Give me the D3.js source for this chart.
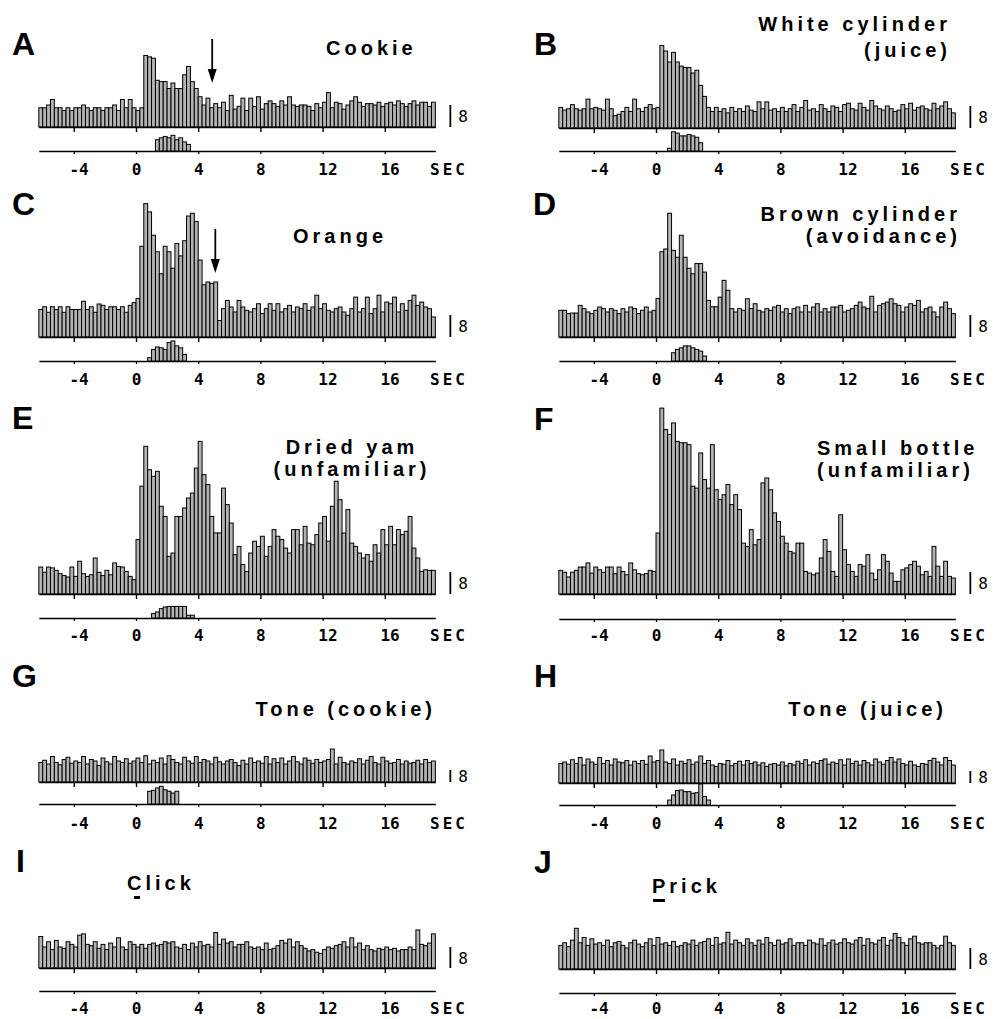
<!DOCTYPE html>
<html><head><meta charset="utf-8">
<script src="https://cdn.jsdelivr.net/npm/d3@7"></script>
<style>
body{margin:0;background:#fff;}
svg{display:block;}
</style></head><body>
<svg id="chart" width="994" height="1019"></svg>
<script>
// ---------------- DATA ----------------
const binStart = -6.25;      // sec, left edge of first bin
const binWidth = 0.25;       // sec
const tickValues = [-4, 0, 4, 8, 12, 16];
const tickLabels = ["-4", "0", "4", "8", "12", "16"];
const unitLabel = "SEC";
const unitLabelAt = 20;
const scaleBarValue = 8;

const panelLetters = ["A","B","C","D","E","F","G","H","I","J"];
const titleLines = [
  ["Cookie"], ["White cylinder", "(juice)"], ["Orange"], ["Brown cylinder", "(avoidance)"],
  ["Dried yam", "(unfamiliar)"], ["Small bottle", "(unfamiliar)"], ["Tone (cookie)"], ["Tone (juice)"],
  ["Click"], ["Prick"]
];

const countsA = [
  7,7,8,10,7,7,6,7,6,7,7,8,7,6,7,7,6,7,7,8,6,10,7,10,7,
  6,7,26,25.5,25,17,16.5,16.5,14,16,14,14,19,22,16.5,14,11,
  8,10.5,7,8.5,7,9,6,11.5,6.5,7.5,10.5,6,10.5,7.5,11,6.5,8.5,9.5,8.5,7.5,
  9.5,8,11,8,7.5,8,8,7.5,6,8.5,7,9,12.5,7,9,8.5,6.5,8,9.5,11,
  9,7.5,8.5,8.5,8,9,7.5,8.5,9,8,9.5,8.5,7.5,8.5,9.5,8,9,9,7.5,9
];
const countsB = [
  7.5,6.5,7,8.5,7,6.5,7,10.5,7,7.5,7,6.5,10.5,7,4.5,5,6,7.5,6,10.5,7,6,7.5,8.5,7,
  7.5,30,28,24,27.5,24,22.5,22,22,20,21,15.5,11.5,7.5,
  6,7.5,6,7,5.5,7.5,6,7,6,8,6.5,6,9.5,7,9.5,6.5,7,6,7.5,6,
  7,8.5,6,7.5,10,6.5,7,6,8.5,7,6,8,7.5,6,8.5,9,7,6.5,9,7.5,
  6.5,10,8,7,6.5,8,7,6,6.5,8.5,7,9,6.5,7.5,8,7,6.5,9,7,8,9.5,7,5.5
];
const countsC = [
  10,11,9,11,10,11,9,11,10,10,10,13,10,11,9,12,11.5,10,11,11,10,11,9,11.5,12.5,
  14,33,48.5,45.5,37,31,23,33,31,25,34,29.5,35,44,45,42,28,19,20,19.5,20,
  6,10.3,13.3,10.9,9.1,13.3,10.9,9.7,9.1,10.3,12.1,8.5,10.3,12.1,9.7,12.1,9.1,10.3,11.5,9.1,
  10.9,10.3,12.1,9.7,10.9,15.2,10.3,12.1,9.7,9.1,10.3,10.9,9.1,7.9,10.3,14.5,9.1,10.3,14.5,8.5,
  10.3,15.2,9.1,12.7,12.1,14.5,9.1,12.1,9.7,13.3,15.2,11.5,12.7,10.9,10.3,7.3
];
const countsD = [
  9.7,9.7,8.5,8.7,8.7,11.5,10.3,9.1,8.5,9.7,10.9,10.3,9.1,10.3,9.7,8.5,10.3,9.1,10.9,10.3,8.5,9.7,10.9,9.1,9.7,
  14,31,32,45,31.5,29,37,29,25,23,26.7,26.7,23.6,13.3,11,11,14.5,20.6,17,10.3,
  9.1,10.3,9.7,13.9,10.3,12.1,9.7,9.1,10.3,9.7,10.9,11.5,9.1,10.3,8.5,10.3,10.9,9.1,11.5,9.1,
  10.9,12.1,9.1,10.3,9.1,10.9,10.9,11.5,9.1,9.7,10.3,11.5,12.7,10.9,10.3,14.8,9.1,11.5,12.1,12.7,
  13.9,12.1,11.5,9.1,10.9,12.1,11.5,13.3,9.1,10.3,10.9,9.1,7.3,10.9,12.7,10.3,8.5
];
const countsE = [
  9.8,7.9,9.8,9.5,8.6,7.4,6.7,6.2,9.8,6.4,11.9,7.4,6.4,7,13.1,7.9,6.7,8.6,7,11.3,10,9.8,8.2,6.4,5.2,
  19.8,39.2,53.7,45.2,42.8,44.6,31.9,28.2,13.7,14.9,28.2,28.2,31.3,34.9,36.7,45.8,55.5,43.4,39.8,28.2,
  22.2,22.2,38.5,32.5,25.8,14.3,17.3,10.7,8.2,14.9,19.2,17.3,21,13.7,17.3,23.4,21,19.8,16.7,14.9,
  23.4,23.4,17.9,24.6,18.5,17.9,21.6,25.8,28.2,19.2,31.9,41,34.3,22.2,30.7,18.5,17.3,14.9,13.1,14.3,
  11.9,17.9,14.9,23.4,17.9,24.6,17.9,23.4,21.6,22.8,28.2,16.7,13.1,8.2,8.8,8.6,8.6
];
const countsF = [
  8.6,7.9,6.2,7.9,8.6,9.8,9.8,11.3,7.6,9.8,8.8,7.9,9.8,9.8,7.4,9.8,8.2,7,11.3,8.8,7.4,7,7.4,8.6,8.2,
  22.2,67.6,59.8,58,62.2,55.5,55,55,54.3,39.2,38.5,51.3,41.6,38.5,54.3,37.9,34.3,36.1,39.8,32.5,
  36.1,30.7,18.5,17.3,23.4,17.9,19.8,40.4,42.2,37.9,29.5,26.4,21,18.5,15.5,14.9,18.5,18.5,8.2,7.6,
  7,7.6,13.1,19.8,15.5,8.2,6.4,28.8,16.1,10.7,8.2,6.4,10.7,10.1,14.3,7.6,5.2,8.8,14.3,11.9,
  7.6,4.6,4.6,8.8,9.5,10.7,11.9,10.1,7,8.2,6.4,17.3,10.1,6.4,11.9,6.4,5.8
];
const countsG = [
  13,14.5,12,17,13,11.5,15,16.5,12.5,14,13,17,12,15,14,11,16,13.5,12,17,14,13,15.5,12.5,14,
  16,13,17.5,12,14.5,13,16,12,17.5,15,13,12,16.5,14,12.5,17,13,15,14,12,16.5,13.5,12,14,15,
  13,11,14.5,12,16,13,14,12.5,17,12,15.5,13,16,12,14,17,13.5,12,16,14.5,12.5,15,13,14,15,
  22,12,16.5,13,12,14,13,15.5,12,14.5,17,13,12,16.5,14,12.5,13,15,12,14,12.5,13,14.5,12,15,13,14
];
const countsH = [
  13,14,12.5,15.5,13,17,12,16,14,12.5,17,13,15,12,16,14,13.5,15,12,14.5,13,15,12.5,18,14,
  15,22,14,13,16,12,14.5,13,15.5,12.5,14,18,13,15,12,11,13,12.5,15,11.5,13,14.5,12,15,13,
  14,12,13.5,11,12.5,13,12,14,11.5,13,12,14.5,13,15.5,12,14,13,15,16,12.5,14,13,15.5,12,16,
  13,14.5,12,15,13.5,12,16,14,12.5,15,17,14,16,13,12,14.5,12,11,13,12.5,15,16.5,14,12,17,15,12
];
const countsI = [
  12,8,10,7,10.5,8,7.5,10,9,8,12.5,13,9,8.5,10,7.5,9,7,9.5,8,11.5,8,7,10,9,
  8,9,7.5,9,9.5,8.5,9,10,9.5,10,8,7.5,9,7,9.5,8,10,8.5,9,8,13.5,9,11,9.5,10,
  8,9,9,10,8,7.5,8,7,9.5,7,7.5,8.5,10.5,9.5,11,8,10,8.5,7.5,6.5,7,6,5.5,7,8,
  7.5,8.5,9,10,8,11.5,8,9.5,7,8.5,7,6.5,7.5,7,8,7,7.5,6.5,7,7,8,7,14.5,9,8.5,9.5,13
];
const countsJ = [
  9,10,8.5,11,15.5,10,12,9,11.5,9.5,10,9,11,8.5,10,10.5,9,8,10,11,9.5,8.5,10,11.5,9,
  12,9.5,10,9,10.5,8.5,9,10,9.5,11,9,10,10.5,11.5,9,12,9.5,10,14,9.5,11,10,9,11.5,10,
  9,11,9.5,12,10,9,11,9.5,10,11.5,9,10,10,9,11,10,9.5,11.5,9,10,11,9.5,10,11.5,10,
  9.5,11,12,9,11.5,10,9.5,11,12,9,11,13.5,12,10,9,11.5,12.5,10,9.5,10,10,9,8,9,12.5,10,9
];
const panelCounts = [countsA,countsB,countsC,countsD,countsE,countsF,countsG,countsH,countsI,countsJ];

// lick / movement histograms (start time in sec, counts per bin)
const lickStart = [1.25, 0.75, 0.75, 1.0, 1.0, null, 0.75, 0.75, null, null];
const lickA = [4.1,4.8,5.3,4.8,5.7,4.1,4.8,3.3,2.4];
const lickB = [1,7,6.5,5.5,5.5,6,5.5,5,3];
const lickC = [1.2,4.2,5.1,4.8,4.2,6.7,7.3,5.5,4.8,2.4];
const lickD = [3,4.2,4.8,5.5,5.5,4.8,4.2,3.6,1.8];
const lickE = [1.6,2.2,3.4,4,4.2,4.2,4.2,4.2,4.2,1,1];
const lickG = [8.5,9.1,10.7,11.8,9.5,8.5,7.3,8.5];
const lickH = [3.3,6.7,9.6,10,8.9,8.9,7.8,8.2,14,5.6,3.3];
const panelLicks = [lickA,lickB,lickC,lickD,lickE,null,lickG,lickH,null,null];

// arrows: panel index, time (s), top and tip heights in counts
const arrowPanel = [0, 2];
const arrowTime = [4.9, 5.1];
const arrowTop = [32, 39.3];
const arrowTip = [16, 23.3];

// ---------------- LAYOUT ----------------
const pxPerSec = 15.55;
const L = [
  {x0:136, base:127, axis:151, lab:175, bar:22, lx:12, ly:55, tx:326, ty:[55], ta:"start"},
  {x0:656, base:128, axis:151, lab:175, bar:22, lx:534, ly:55, tx:951, ty:[31,57], ta:"end"},
  {x0:136, base:337, axis:361, lab:385, bar:22, lx:12, ly:215, tx:293, ty:[243], ta:"start"},
  {x0:656, base:337, axis:361, lab:385, bar:22, lx:533, ly:215, tx:961, ty:[221,243], ta:"end"},
  {x0:136, base:594, axis:618, lab:641, bar:22, lx:12, ly:429, tx:352, ty:[454,476], ta:"middle"},
  {x0:656, base:594, axis:619, lab:641, bar:22, lx:534, ly:430, tx:817, ty:[455,477], ta:"start"},
  {x0:136, base:782, axis:804, lab:829, bar:12, lx:12, ly:687, tx:436, ty:[716], ta:"end"},
  {x0:656, base:783, axis:805, lab:829, bar:12, lx:534, ly:687, tx:947, ty:[716], ta:"end"},
  {x0:136, base:968, axis:991, lab:1014, bar:21, lx:16, ly:872, tx:127, ty:[890], ta:"start"},
  {x0:656, base:969, axis:993, lab:1014, bar:21, lx:534, ly:873, tx:652, ty:[893], ta:"start"}
];
const underline = [null,null,null,null,null,null,null,null,{x:134,y:896,w:6,h:3},{x:653,y:899,w:12,h:3}];

const monoFont = "'DejaVu Sans Mono', monospace";
const sansFont = "'Liberation Sans', Arial, Helvetica, sans-serif";
const barFill = "#b4b4b4";

const svg = d3.select("#chart");
svg.append("rect").attr("width",994).attr("height",1019).attr("fill","#fff");

panelCounts.forEach((counts, p) => {
  const lay = L[p];
  const g = svg.append("g");
  const tEnd = binStart + counts.length * binWidth;
  const x = d3.scaleLinear().domain([binStart, tEnd])
    .range([lay.x0 + binStart * pxPerSec, lay.x0 + tEnd * pxPerSec]);
  const y = d3.scaleLinear().domain([0, scaleBarValue]).range([lay.base, lay.base - lay.bar]);
  const band = d3.scaleBand().domain(d3.range(counts.length)).range(x.range()).paddingInner(0).paddingOuter(0);

  // main histogram bars
  g.append("g").selectAll("rect").data(counts).join("rect")
    .attr("x", (d, i) => band(i))
    .attr("width", band.bandwidth())
    .attr("y", d => y(d))
    .attr("height", d => y(0) - y(d))
    .attr("fill", barFill).attr("stroke", "#000").attr("stroke-width", 1);

  // baseline axis with ticks
  const baseAxis = d3.axisBottom(x).tickValues(tickValues).tickSize(5).tickSizeOuter(0).tickFormat("");
  const ga = g.append("g").attr("transform", `translate(0,${lay.base})`).call(baseAxis);
  ga.select(".domain").attr("stroke", "#000").attr("stroke-width", 1.4);
  ga.selectAll(".tick line").attr("stroke", "#000").attr("stroke-width", 1.4);

  // lower axis with labels
  const lowAxis = d3.axisBottom(x).tickValues(tickValues).tickSize(3).tickSizeOuter(0)
    .tickFormat((d, i) => tickLabels[i]);
  const gl = g.append("g").attr("transform", `translate(0,${lay.axis})`).call(lowAxis);
  gl.select(".domain").attr("stroke", "#000").attr("stroke-width", 1.7);
  gl.selectAll(".tick line").attr("stroke", "#000").attr("stroke-width", 1.3);
  const charW = 16 * 0.602;
  gl.selectAll(".tick text")
    .attr("y", lay.lab - lay.axis).attr("dy", 0)
    .attr("text-anchor", "start").attr("dx", -charW / 2)
    .attr("font-family", monoFont).attr("font-weight", "bold").attr("font-size", 16).attr("fill", "#000");
  g.append("text").attr("x", lay.x0 + unitLabelAt * pxPerSec + 2).attr("y", lay.lab)
    .attr("text-anchor", "middle").attr("font-family", monoFont).attr("font-weight", "bold").attr("font-size", 16)
    .attr("letter-spacing", 3).text(unitLabel);

  // lick histogram on lower axis
  const lk = panelLicks[p];
  if (lk) {
    const yl = d3.scaleLinear().domain([0, scaleBarValue]).range([lay.axis, lay.axis - lay.bar]);
    const s = lickStart[p];
    g.append("g").selectAll("rect").data(lk).join("rect")
      .attr("x", (d, i) => x(s + i * binWidth))
      .attr("width", x(binWidth) - x(0))
      .attr("y", d => yl(d))
      .attr("height", d => yl(0) - yl(d))
      .attr("fill", barFill).attr("stroke", "#000").attr("stroke-width", 1);
  }

  // scale bar
  const sbx = x.range()[1] + 15;
  g.append("line").attr("x1", sbx).attr("x2", sbx).attr("y1", y(scaleBarValue)).attr("y2", y(0))
    .attr("stroke", "#000").attr("stroke-width", 1.8);
  g.append("text").attr("x", sbx + 8).attr("y", (y(scaleBarValue) + y(0)) / 2 + 6)
    .attr("font-family", monoFont).attr("font-size", 16).text(String(scaleBarValue));

  // panel letter
  g.append("text").attr("x", lay.lx).attr("y", lay.ly)
    .attr("font-family", sansFont).attr("font-weight", "bold").attr("font-size", 32)
    .text(panelLetters[p]);

  // title
  titleLines[p].forEach((t, k) => {
    g.append("text").attr("x", lay.tx).attr("y", lay.ty[k]).attr("text-anchor", lay.ta)
      .attr("font-family", sansFont).attr("font-weight", "bold").attr("font-size", 20)
      .attr("letter-spacing", 4).text(t);
  });
  if (underline[p]) {
    const u = underline[p];
    g.append("rect").attr("x", u.x).attr("y", u.y).attr("width", u.w).attr("height", u.h).attr("fill", "#000");
  }

  // arrows
  arrowPanel.forEach((ap, k) => {
    if (ap !== p) return;
    const ax = x(arrowTime[k]);
    const yTop = y(arrowTop[k]), yTip = y(arrowTip[k]);
    g.append("line").attr("x1", ax).attr("x2", ax).attr("y1", yTop).attr("y2", yTip - 10)
      .attr("stroke", "#000").attr("stroke-width", 1.8);
    g.append("path").attr("d", `M${ax - 4.5},${yTip - 14} L${ax + 4.5},${yTip - 14} L${ax},${yTip} Z`)
      .attr("fill", "#000");
  });
});
</script>
</body></html>
